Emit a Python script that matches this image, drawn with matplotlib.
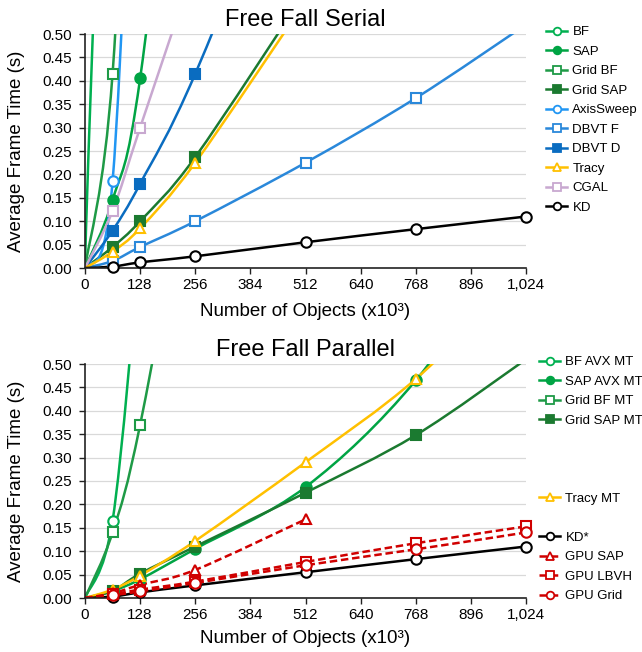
import numpy as np
import matplotlib
matplotlib.use("Agg")
import matplotlib.pyplot as plt
from matplotlib.path import Path
from matplotlib.patches import PathPatch
from matplotlib.lines import Line2D
from matplotlib.ticker import FuncFormatter

plt.rcParams['font.family'] = ['Liberation Sans', 'DejaVu Sans']

# number of objects (x10^3), first point is the origin
x = [0, 64, 128, 256, 512, 768, 1024]

# serial timings (s)
bf = [0, 2.5, 10.0]
sap = [0, 0.145, 0.405, 1.4]
grid_bf = [0, 0.415, 1.6]
grid_sap = [0, 0.045, 0.10, 0.237, 0.59]
axis_sweep = [0, 0.185, 1.4]
dbvt_f = [0, 0.015, 0.045, 0.10, 0.225, 0.363, 0.52]
dbvt_d = [0, 0.08, 0.18, 0.415, 1.0]
tracy = [0, 0.035, 0.085, 0.225, 0.57]
cgal = [0, 0.122, 0.30, 0.65]
kd = [0, 0.003, 0.012, 0.025, 0.055, 0.083, 0.11]

# parallel timings (s)
bf_avx_mt = [0, 0.165, 0.75]
sap_avx_mt = [0, 0.015, 0.04, 0.105, 0.237, 0.465, 0.8]
grid_bf_mt = [0, 0.14, 0.37, 1.0]
grid_sap_mt = [0, 0.015, 0.052, 0.11, 0.225, 0.348, 0.51]
tracy_mt = [0, 0.018, 0.048, 0.122, 0.29, 0.468, 0.7]
kd_star = [0, 0.003, 0.012, 0.027, 0.055, 0.083, 0.11]
gpu_sap = [0, 0.01, 0.028, 0.06, 0.168]
gpu_lbvh = [0, 0.008, 0.018, 0.035, 0.077, 0.117, 0.153]
gpu_grid = [0, 0.006, 0.014, 0.032, 0.07, 0.104, 0.14]

xticks = [0, 128, 256, 384, 512, 640, 768, 896, 1024]
yticks = [0.0, 0.05, 0.10, 0.15, 0.20, 0.25, 0.30, 0.35, 0.40, 0.45, 0.50]

GREEN_L = '#00B050'
GREEN = '#00A444'
GREEN_M = '#1E9A46'
GREEN_D = '#1B7A30'
BLUE_L = '#2196F3'
BLUE = '#2A88DA'
BLUE_D = '#0A6CC0'
GOLD = '#FFC000'
LILAC = '#C8A8D0'
RED = '#D00000'
DASH = (0, (3, 1.5))


def smooth_path(xs, ys):
    # bezier spline through the points, like excel "smoothed line"
    pts = np.column_stack([xs, ys]).astype(float)
    n = len(pts)
    verts = [pts[0]]
    codes = [Path.MOVETO]
    for i in range(n - 1):
        p0 = pts[i - 1] if i > 0 else pts[i]
        p1 = pts[i]
        p2 = pts[i + 1]
        p3 = pts[i + 2] if i + 2 < n else pts[i + 1]
        verts += [p1 + (p2 - p0) / 6, p2 - (p3 - p1) / 6, p2]
        codes += [Path.CURVE4] * 3
    return Path(verts, codes)


def draw(ax, ys, color, marker, filled, label, ls='-'):
    xs = x[:len(ys)]
    ax.add_patch(PathPatch(smooth_path(xs, ys), fill=False, edgecolor=color,
                           lw=1.8, linestyle=ls if ls == '-' else DASH,
                           capstyle='butt'))
    face = color if filled else 'white'
    # markers only for points inside the plot range, skip the origin
    mx = [a for a, b in zip(xs[1:], ys[1:]) if b <= 0.5]
    my = [b for b in ys[1:] if b <= 0.5]
    ax.plot(mx, my, ls='none', marker=marker, ms=7.5, mfc=face,
            mec=color, mew=1.5, clip_on=False, zorder=3)
    return Line2D([], [], color=color, lw=1.8, marker=marker, ms=5.5,
                  mfc=face, mec=color, mew=1.3,
                  ls='-' if ls == '-' else DASH), label


def blank():
    return Line2D([], [], ls='none', marker=None), ' '


def style(ax, title, xpad):
    ax.set_xlim(0, 1024)
    ax.set_ylim(0, 0.5)
    ax.set_xticks(xticks)
    ax.set_yticks(yticks)
    ax.xaxis.set_major_formatter(FuncFormatter(lambda v, p: '{:,}'.format(int(v))))
    ax.yaxis.set_major_formatter(FuncFormatter(lambda v, p: '%.2f' % v))
    ax.grid(axis='y', color='#D9D9D9', lw=0.9)
    ax.set_axisbelow(True)
    for s in ['top', 'right']:
        ax.spines[s].set_visible(False)
    for s in ['left', 'bottom']:
        ax.spines[s].set_color('#222222')
        ax.spines[s].set_linewidth(1.2)
    ax.tick_params(labelsize=11, length=4, width=1, color='#222222')
    ax.tick_params(axis='y', pad=5)
    ax.tick_params(axis='x', pad=3)
    ax.set_title(title, fontsize=17, pad=6)
    ax.set_xlabel('Number of Objects (x10³)', fontsize=13.5, labelpad=xpad)
    ax.set_ylabel('Average Frame Time (s)', fontsize=13.5)
    ax.yaxis.set_label_coords(-0.136, 0.5)


fig = plt.figure(figsize=(6.42, 6.52), dpi=100)
ax1 = fig.add_axes([85 / 642, 1 - 268 / 652, 441 / 642, 234 / 652])
ax2 = fig.add_axes([85 / 642, 1 - 598 / 652, 441 / 642, 234 / 652])

h1 = [
    draw(ax1, bf, GREEN_L, 'o', False, 'BF'),
    draw(ax1, sap, GREEN, 'o', True, 'SAP'),
    draw(ax1, grid_bf, GREEN_M, 's', False, 'Grid BF'),
    draw(ax1, grid_sap, GREEN_D, 's', True, 'Grid SAP'),
    draw(ax1, axis_sweep, BLUE_L, 'o', False, 'AxisSweep'),
    draw(ax1, dbvt_f, BLUE, 's', False, 'DBVT F'),
    draw(ax1, dbvt_d, BLUE_D, 's', True, 'DBVT D'),
    draw(ax1, cgal, LILAC, 's', False, 'CGAL'),
    draw(ax1, tracy, GOLD, '^', False, 'Tracy'),
    draw(ax1, kd, 'black', 'o', False, 'KD'),
]
# legend order puts Tracy before CGAL
h1 = h1[:7] + [h1[8], h1[7], h1[9]]

h2 = [
    draw(ax2, bf_avx_mt, GREEN_L, 'o', False, 'BF AVX MT'),
    draw(ax2, sap_avx_mt, GREEN, 'o', True, 'SAP AVX MT'),
    draw(ax2, grid_bf_mt, GREEN_M, 's', False, 'Grid BF MT'),
    draw(ax2, grid_sap_mt, GREEN_D, 's', True, 'Grid SAP MT'),
    blank(), blank(), blank(),
    draw(ax2, tracy_mt, GOLD, '^', False, 'Tracy MT'),
    blank(),
    draw(ax2, kd_star, 'black', 'o', False, 'KD*'),
    draw(ax2, gpu_sap, RED, '^', False, 'GPU SAP', ls='--'),
    draw(ax2, gpu_lbvh, RED, 's', False, 'GPU LBVH', ls='--'),
    draw(ax2, gpu_grid, RED, 'o', False, 'GPU Grid', ls='--'),
]

style(ax1, 'Free Fall Serial', 8)
style(ax2, 'Free Fall Parallel', 6)

for handles, left, top in [(h1, 546, 26), (h2, 539, 356)]:
    fig.legend([h for h, l in handles], [l for h, l in handles],
               loc='upper left', bbox_to_anchor=(left / 642, 1 - top / 652),
               frameon=False, fontsize=9.5, handlelength=1.6,
               handletextpad=0.4, labelspacing=0.55, borderpad=0,
               borderaxespad=0)

fig.savefig('out.png', dpi=100)
